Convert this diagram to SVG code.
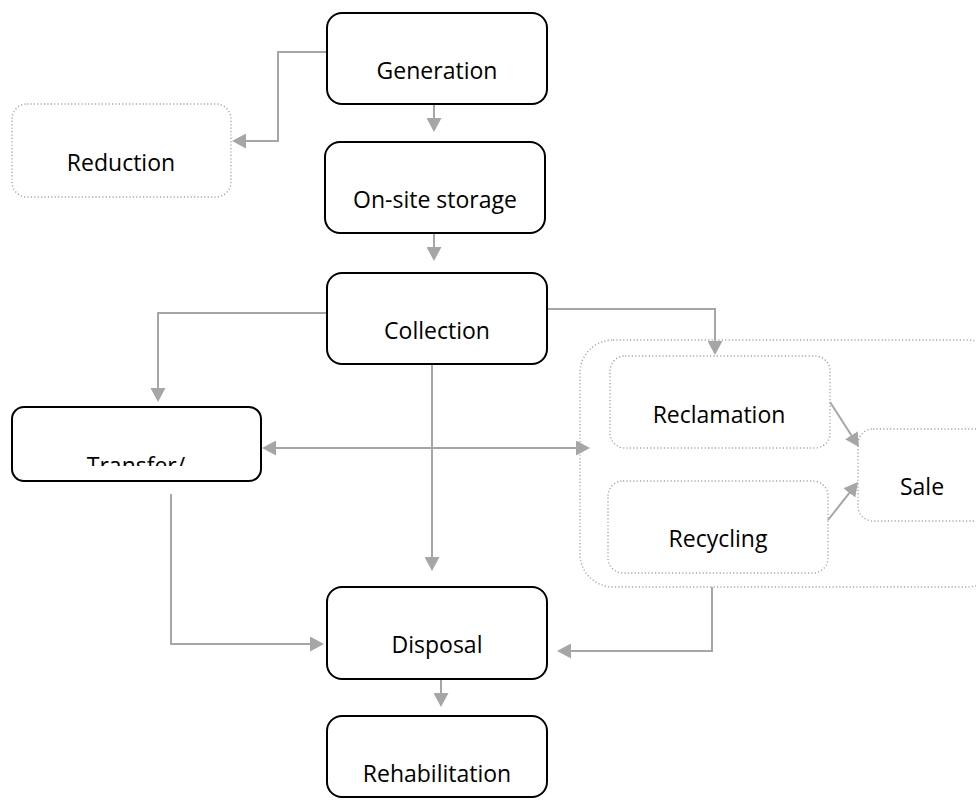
<svg xmlns="http://www.w3.org/2000/svg" width="976" height="800" viewBox="0 0 976 800">
<style>
.solid{fill:#fff;stroke:#000;stroke-width:2}
.dot{fill:none;stroke:#A6A6A6;stroke-width:1.4;stroke-dasharray:1.2 2.2}
.lbl{font-family:"Open Sans","Noto Sans","Liberation Sans",sans-serif;font-size:23px;fill:#000;text-anchor:middle}
.con{fill:none;stroke:#A6A6A6;stroke-width:2}
</style>
<defs>
<marker id="ah" markerUnits="userSpaceOnUse" markerWidth="14" markerHeight="15" refX="8" refY="7.5" orient="auto-start-reverse" viewBox="0 0 14 15">
<path d="M0,0 L14,7.5 L0,15 z" fill="#A6A6A6"/>
</marker>
<clipPath id="tclip"><rect x="12" y="407" width="249" height="59"/></clipPath>
</defs>
<g id="connectors">
<path class="con" d="M327,52 H278 V141 H238" marker-end="url(#ah)"/>
<path class="con" d="M434,104 V126" marker-end="url(#ah)"/>
<path class="con" d="M434,233 V255" marker-end="url(#ah)"/>
<path class="con" d="M327,313 H158 V396" marker-end="url(#ah)"/>
<path class="con" d="M547,309 H715 V349" marker-end="url(#ah)"/>
<path class="con" d="M432,364 V565" marker-end="url(#ah)"/>
<path class="con" d="M268,448 H584" marker-start="url(#ah)" marker-end="url(#ah)"/>
<path class="con" d="M171,494 V644 H318" marker-end="url(#ah)"/>
<path class="con" d="M712,587 V651 H563" marker-end="url(#ah)"/>
<path class="con" d="M441,679 V701" marker-end="url(#ah)"/>
<path class="con" d="M830,402 L855.7,442" marker-end="url(#ah)"/>
<path class="con" d="M828,520 L854.3,486.7" marker-end="url(#ah)"/>
</g>
<g id="generation"><rect class="solid" x="327" y="13" width="220" height="91" rx="15"/><text class="lbl" x="437" y="79">Generation</text></g>
<g id="reduction"><rect class="dot" x="12" y="104" width="219" height="93" rx="15"/><text class="lbl" x="121" y="171">Reduction</text></g>
<g id="onsite-storage"><rect class="solid" x="325" y="142" width="220" height="91" rx="15"/><text class="lbl" x="435" y="208">On-site storage</text></g>
<g id="collection"><rect class="solid" x="327" y="273" width="220" height="91" rx="15"/><text class="lbl" x="437" y="339">Collection</text></g>
<g id="transfer"><rect class="solid" x="12" y="407" width="249" height="74" rx="12"/><text class="lbl" x="136" y="474" clip-path="url(#tclip)">Transfer/</text></g>
<g id="recovery-group"><rect class="dot" x="580" y="340" width="420" height="247" rx="33"/></g>
<g id="reclamation"><rect class="dot" x="610" y="356" width="220" height="92" rx="15"/><text class="lbl" x="719" y="423">Reclamation</text></g>
<g id="recycling"><rect class="dot" x="608" y="481" width="220" height="92" rx="15"/><text class="lbl" x="718" y="547">Recycling</text></g>
<g id="sale"><rect class="dot" x="858" y="429" width="140" height="92" rx="15"/><text class="lbl" x="922" y="495">Sale</text></g>
<g id="disposal"><rect class="solid" x="327" y="587" width="220" height="92" rx="15"/><text class="lbl" x="437" y="653">Disposal</text></g>
<g id="rehabilitation"><rect class="solid" x="327" y="716" width="220" height="81" rx="15"/><text class="lbl" x="437" y="782">Rehabilitation</text></g>
</svg>
